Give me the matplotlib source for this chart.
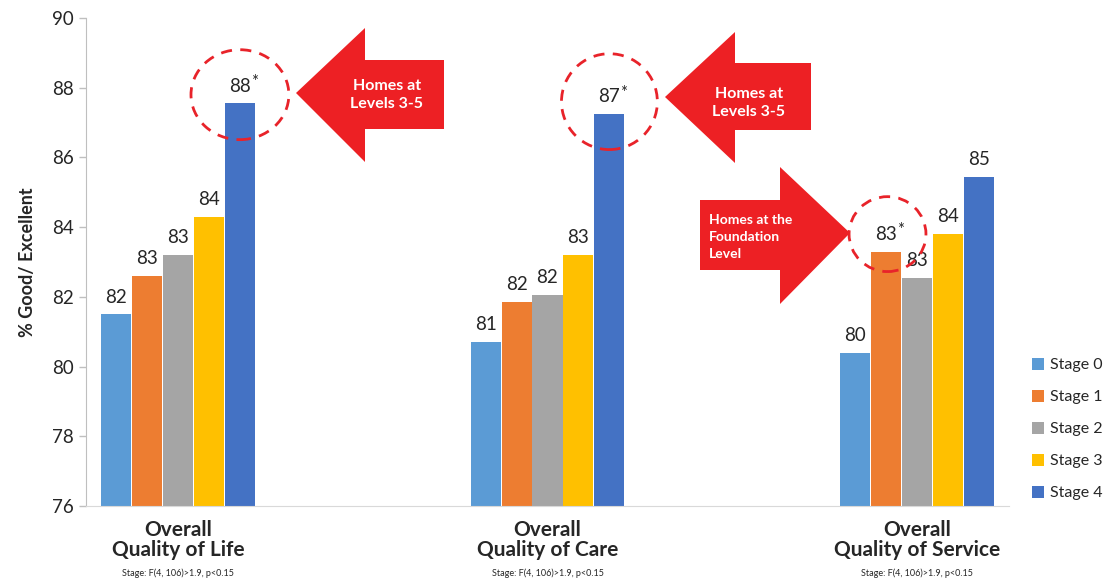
import matplotlib
matplotlib.use("Agg")
import matplotlib.pyplot as plt
from matplotlib.patches import Polygon, Ellipse
import numpy as np

plt.rcParams['font.family'] = ['Lato', 'DejaVu Sans']

groups = ["Overall\nQuality of Life", "Overall\nQuality of Care", "Overall\nQuality of Service"]
stats_note = ["Stage: F(4, 106)>1.9, p<0.15"] * 3
stages = ["Stage 0", "Stage 1", "Stage 2", "Stage 3", "Stage 4"]
values = [
    [81.5, 82.6, 83.2, 84.3, 87.55],   # Stage 0..4 for Quality of Life
    [80.7, 81.85, 82.05, 83.2, 87.25], # Quality of Care
    [80.4, 83.3, 82.55, 83.8, 85.45],  # Quality of Service
]
labels = [
    ["82", "83", "83", "84", "88"],
    ["81", "82", "82", "83", "87"],
    ["80", "83", "83", "84", "85"],
]
starred = [(0, 4), (1, 4), (2, 1)]
colors = ["#5B9BD5", "#ED7D31", "#A5A5A5", "#FFC000", "#4472C4"]
yticks = [76, 78, 80, 82, 84, 86, 88, 90]

W, H = 1107, 580
fig = plt.figure(figsize=(W / 100, H / 100), dpi=100)
ax = fig.add_axes([86 / W, 74 / H, (1009 - 86) / W, (506 - 18) / H])

bw = 31 / 370
x = np.arange(len(groups))
vals = np.array(values)
txtc = "#262626"
for si, st in enumerate(stages):
    xs = x + (si - 2) * bw
    ax.bar(xs, vals[:, si], width=bw * 0.97, color=colors[si], label=st, zorder=2)
    for gi in range(len(groups)):
        lab = labels[gi][si]
        ax.text(xs[gi], vals[gi, si] + 0.25, lab, ha='center', va='bottom',
                fontsize=13.5, color=txtc, zorder=4)
        if (gi, si) in starred:
            ax.text(xs[gi] + 0.03, vals[gi, si] + 0.38, "*", ha='left', va='bottom',
                    fontsize=12, color=txtc, zorder=4)

ax.set_ylim(76, 90)
ax.set_xlim(-0.249, 2.249)
ax.set_yticks(yticks)
ax.tick_params(axis='y', labelsize=13.5, colors='#BFBFBF', labelcolor=txtc, length=5, width=1)
ax.set_xticks([])
for s in ['top', 'right']:
    ax.spines[s].set_visible(False)
ax.spines['left'].set_color('#BFBFBF')
ax.spines['bottom'].set_color('#D9D9D9')
ax.set_ylabel("% Good/ Excellent", fontsize=13, fontweight='bold', color=txtc, labelpad=12)

for gi, g in enumerate(groups):
    ax.text(x[gi], 75.6, g, ha='center', va='top', fontsize=15, fontweight='bold',
            color=txtc, linespacing=1.0, transform=ax.transData, clip_on=False)
    ax.text(x[gi], 74.2, stats_note[gi], ha='center', va='top', fontsize=6.5,
            color=txtc, clip_on=False)

# dashed circles around starred values
circles = [(0, 4, 0.25, 2.58), (1, 4, 0.35, 2.75), (2, 1, 0.5, 2.15)]
cw = [98 / 370, 96 / 370, 77 / 370]
for k, (gi, si, dy, hgt) in enumerate(circles):
    cx = x[gi] + (si - 2) * bw + (0.0 if si == 4 else 0.004)
    cy = vals[gi, si] + dy
    e = Ellipse((cx, cy), cw[k], hgt, fill=False, edgecolor='#E8232A', lw=2,
                linestyle=(0, (4, 3)), zorder=5, clip_on=False)
    ax.add_patch(e)

red = "#ED2024"
def px(pts):
    return [(a / W, 1 - b / H) for a, b in pts]

arrow1 = [(296, 93), (365, 28), (365, 60), (444, 60), (444, 129), (365, 129), (365, 162)]
arrow2 = [(665, 97), (735, 32), (735, 63), (811, 63), (811, 130), (735, 130), (735, 163)]
arrow3 = [(700, 200), (780, 200), (780, 167), (850, 233), (780, 304), (780, 270), (700, 270)]
for a in (arrow1, arrow2, arrow3):
    fig.patches.append(Polygon(px(a), closed=True, transform=fig.transFigure,
                               facecolor=red, edgecolor='none', zorder=3))

fig.text(387 / W, 1 - 95 / H, "Homes at\nLevels 3-5", ha='center', va='center',
         color='white', fontsize=11.5, fontweight='bold', linespacing=1.3)
fig.text(749 / W, 1 - 103 / H, "Homes at\nLevels 3-5", ha='center', va='center',
         color='white', fontsize=11.5, fontweight='bold', linespacing=1.3)
fig.text(709 / W, 1 - 237 / H, "Homes at the\nFoundation\nLevel", ha='left', va='center',
         color='white', fontsize=10, fontweight='bold', linespacing=1.45)

leg = fig.legend(loc='upper left', bbox_to_anchor=(1032 / W, 1 - 358 / H), frameon=False,
                 fontsize=11.5, handlelength=0.75, handleheight=0.75, handletextpad=0.4,
                 labelspacing=1.1, labelcolor=txtc, borderpad=0, borderaxespad=0)

fig.savefig("out.png", dpi=100)
